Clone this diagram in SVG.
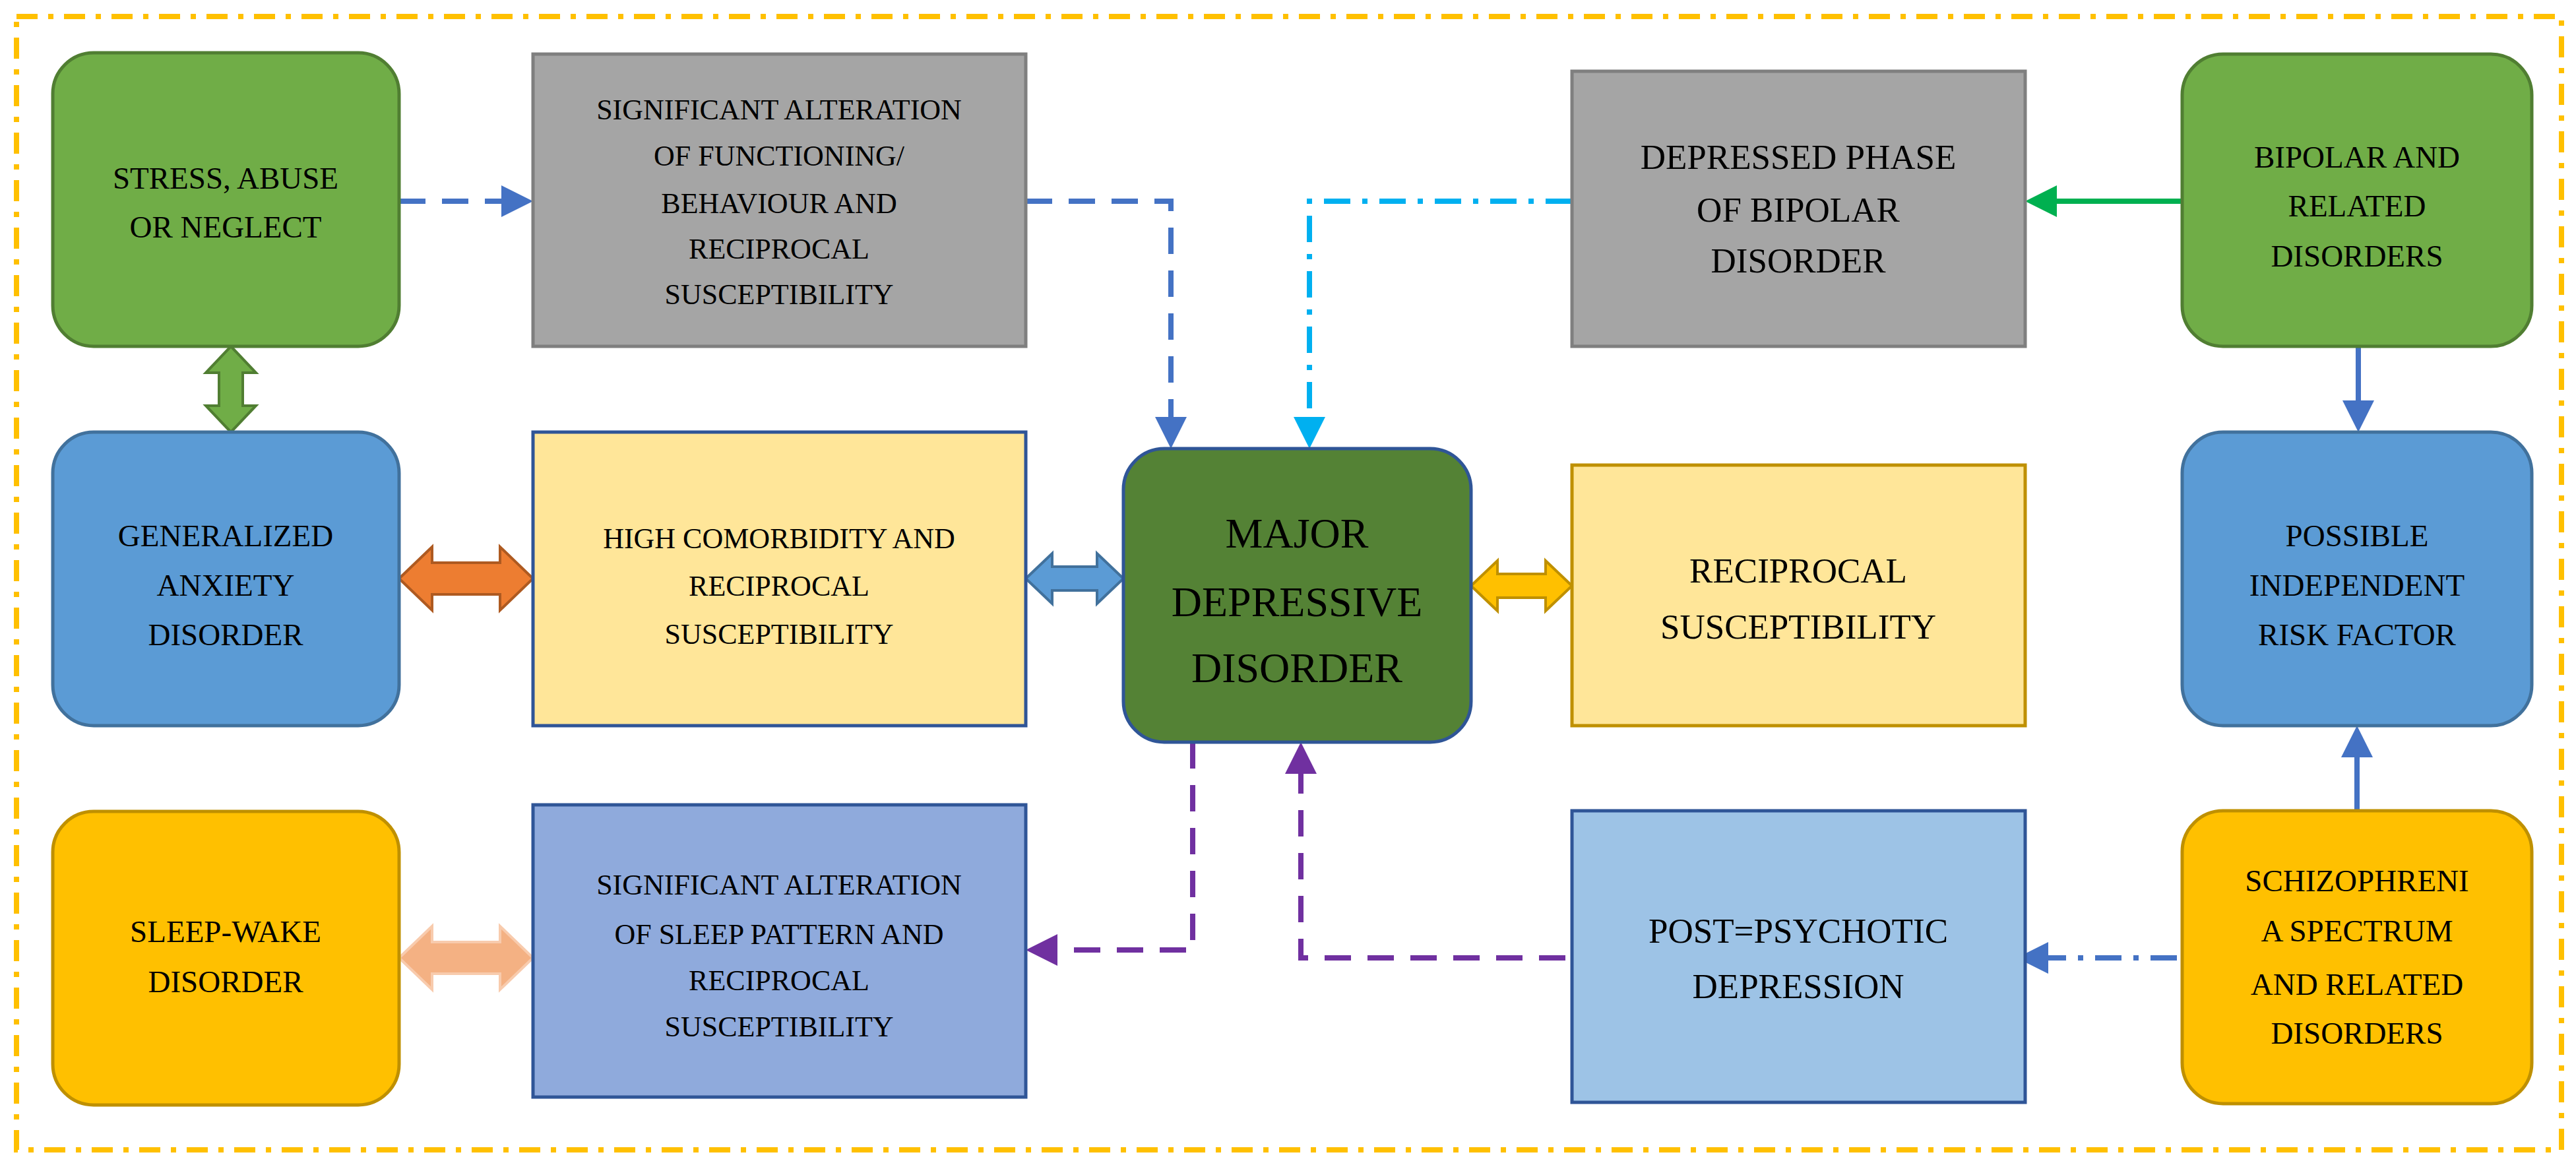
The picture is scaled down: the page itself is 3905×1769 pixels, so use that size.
<svg xmlns="http://www.w3.org/2000/svg" width="3905" height="1769" viewBox="0 0 3905 1769">
<defs>
<marker id="ab" markerWidth="6" markerHeight="6" refX="5" refY="3" orient="auto" markerUnits="strokeWidth"><path d="M0,0 L6,3 L0,6 Z" fill="#4472C4"/></marker>
<marker id="ac" markerWidth="6" markerHeight="6" refX="5" refY="3" orient="auto" markerUnits="strokeWidth"><path d="M0,0 L6,3 L0,6 Z" fill="#00B0F0"/></marker>
<marker id="ag" markerWidth="6" markerHeight="6" refX="5" refY="3" orient="auto" markerUnits="strokeWidth"><path d="M0,0 L6,3 L0,6 Z" fill="#00B050"/></marker>
<marker id="ap" markerWidth="6" markerHeight="6" refX="5" refY="3" orient="auto" markerUnits="strokeWidth"><path d="M0,0 L6,3 L0,6 Z" fill="#7030A0"/></marker>
</defs>
<style>
text{font-family:"Liberation Serif","Times New Roman",serif;text-anchor:middle;fill:#000}
.s{font-size:44px}.m{font-size:47px}.l{font-size:53px}.x{font-size:64px}
.c{fill:none;stroke-width:8}
</style>
<rect width="3905" height="1769" fill="#fff"/>
<rect x="25" y="25" width="3858" height="1718" fill="none" stroke="#FFC000" stroke-width="8" stroke-dasharray="32 16 8 16"/>
<g id="connectors">
<path class="c" d="M605 305 H800" stroke="#4472C4" stroke-dasharray="40 25" marker-end="url(#ab)"/>
<path class="c" d="M1555 305 H1775 V672" stroke="#4472C4" stroke-dasharray="40 25" marker-end="url(#ab)"/>
<path class="c" d="M2383 305 H1985 V672" stroke="#00B0F0" stroke-dasharray="40 18 8 18" marker-end="url(#ac)"/>
<path class="c" d="M3308 305 H3078" stroke="#00B050" marker-end="url(#ag)"/>
<path class="c" d="M3575 525 V647" stroke="#4472C4" marker-end="url(#ab)"/>
<path class="c" d="M3573 1229 V1108" stroke="#4472C4" marker-end="url(#ab)"/>
<path class="c" d="M3300 1452 H3065" stroke="#4472C4" stroke-dasharray="40 18 8 18" marker-end="url(#ab)"/>
<path class="c" d="M2373 1452 H1972 V1133" stroke="#7030A0" stroke-dasharray="40 25" marker-end="url(#ap)"/>
<path class="c" d="M1808 1125 V1440 H1563" stroke="#7030A0" stroke-dasharray="40 25" marker-end="url(#ap)"/>
<path d="M350 525 L388 565 L368 565 L368 615 L388 615 L350 655 L312 615 L332 615 L332 565 L312 565 Z" fill="#70AD47" stroke="#507E32" stroke-width="4"/>
<path d="M605 877 L655 829 L655 853 L758 853 L758 829 L808 877 L758 925 L758 901 L655 901 L655 925 Z" fill="#ED7D31" stroke="#AE5A21" stroke-width="4"/>
<path d="M1555 877 L1595 839 L1595 859 L1663 859 L1663 839 L1703 877 L1663 915 L1663 895 L1595 895 L1595 915 Z" fill="#5B9BD5" stroke="#41719C" stroke-width="4"/>
<path d="M2230 888 L2270 850 L2270 870 L2343 870 L2343 850 L2383 888 L2343 926 L2343 906 L2270 906 L2270 926 Z" fill="#FFC000" stroke="#BF9000" stroke-width="4"/>
<path d="M605 1452 L655 1404 L655 1428 L758 1428 L758 1404 L808 1452 L758 1500 L758 1476 L655 1476 L655 1500 Z" fill="#F4B183" stroke="#F8CBAD" stroke-width="4"/>
</g>
<g id="stress"><rect x="80" y="80" width="525" height="445" rx="62" fill="#70AD47" stroke="#507E32" stroke-width="5"/>
<text class="m" x="342" y="286">STRESS, ABUSE</text><text class="m" x="342" y="360">OR NEGLECT</text></g>
<g id="sigfunc"><rect x="808" y="82" width="747" height="443" fill="#A5A5A5" stroke="#7F7F7F" stroke-width="5"/>
<text class="s" x="1181" y="181">SIGNIFICANT ALTERATION</text><text class="s" x="1181" y="251">OF FUNCTIONING/</text><text class="s" x="1181" y="323">BEHAVIOUR AND</text><text class="s" x="1181" y="392">RECIPROCAL</text><text class="s" x="1181" y="461">SUSCEPTIBILITY</text></g>
<g id="depressed"><rect x="2383" y="108" width="687" height="417" fill="#A5A5A5" stroke="#7F7F7F" stroke-width="5"/>
<text class="l" x="2726" y="256">DEPRESSED PHASE</text><text class="l" x="2726" y="336">OF BIPOLAR</text><text class="l" x="2726" y="413">DISORDER</text></g>
<g id="bipolar"><rect x="3308" y="82" width="530" height="443" rx="62" fill="#70AD47" stroke="#507E32" stroke-width="5"/>
<text class="m" x="3573" y="254">BIPOLAR AND</text><text class="m" x="3573" y="328">RELATED</text><text class="m" x="3573" y="404">DISORDERS</text></g>
<g id="gad"><rect x="80" y="655" width="525" height="445" rx="62" fill="#5B9BD5" stroke="#41719C" stroke-width="5"/>
<text class="m" x="342" y="828">GENERALIZED</text><text class="m" x="342" y="903">ANXIETY</text><text class="m" x="342" y="978">DISORDER</text></g>
<g id="highcomorb"><rect x="808" y="655" width="747" height="445" fill="#FFE699" stroke="#2F5597" stroke-width="5"/>
<text class="s" x="1181" y="831">HIGH COMORBIDITY AND</text><text class="s" x="1181" y="903">RECIPROCAL</text><text class="s" x="1181" y="976">SUSCEPTIBILITY</text></g>
<g id="mdd"><rect x="1703" y="680" width="527" height="445" rx="62" fill="#548235" stroke="#2F5597" stroke-width="5"/>
<text class="x" x="1966" y="830">MAJOR</text><text class="x" x="1966" y="934">DEPRESSIVE</text><text class="x" x="1966" y="1034">DISORDER</text></g>
<g id="reciprocal"><rect x="2383" y="705" width="687" height="395" fill="#FFE699" stroke="#BF9000" stroke-width="5"/>
<text class="l" x="2726" y="883">RECIPROCAL</text><text class="l" x="2726" y="968">SUSCEPTIBILITY</text></g>
<g id="possible"><rect x="3308" y="655" width="530" height="445" rx="62" fill="#5B9BD5" stroke="#41719C" stroke-width="5"/>
<text class="m" x="3573" y="828">POSSIBLE</text><text class="m" x="3573" y="903">INDEPENDENT</text><text class="m" x="3573" y="978">RISK FACTOR</text></g>
<g id="sleepwake"><rect x="80" y="1230" width="525" height="445" rx="62" fill="#FFC000" stroke="#BF9000" stroke-width="5"/>
<text class="m" x="342" y="1428">SLEEP-WAKE</text><text class="m" x="342" y="1504">DISORDER</text></g>
<g id="sigsleep"><rect x="808" y="1220" width="747" height="443" fill="#8FAADC" stroke="#2F5597" stroke-width="5"/>
<text class="s" x="1181" y="1356">SIGNIFICANT ALTERATION</text><text class="s" x="1181" y="1431">OF SLEEP PATTERN AND</text><text class="s" x="1181" y="1501">RECIPROCAL</text><text class="s" x="1181" y="1571">SUSCEPTIBILITY</text></g>
<g id="postpsych"><rect x="2383" y="1229" width="687" height="442" fill="#9DC3E6" stroke="#2F5597" stroke-width="5"/>
<text class="l" x="2726" y="1429">POST=PSYCHOTIC</text><text class="l" x="2726" y="1513">DEPRESSION</text></g>
<g id="schizo"><rect x="3308" y="1229" width="530" height="444" rx="62" fill="#FFC000" stroke="#BF9000" stroke-width="5"/>
<text class="m" x="3573" y="1351">SCHIZOPHRENI</text><text class="m" x="3573" y="1427">A SPECTRUM</text><text class="m" x="3573" y="1508">AND RELATED</text><text class="m" x="3573" y="1582">DISORDERS</text></g>
</svg>
